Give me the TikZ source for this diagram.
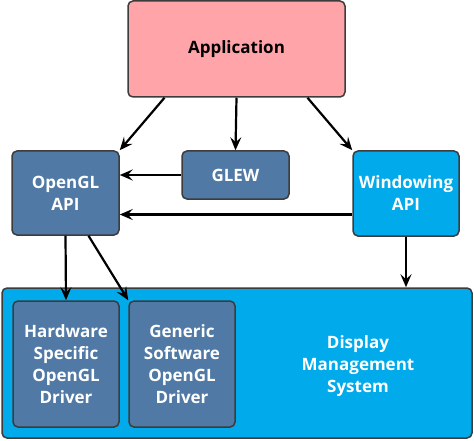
\documentclass[tikz,border=0pt]{standalone}
\usepackage{fontspec}
\setmainfont{Open Sans}
\usetikzlibrary{arrows.meta}

\definecolor{apppink}{RGB}{255,164,168}
\definecolor{steelbox}{RGB}{80,122,165}
\definecolor{skybox}{RGB}{0,170,235}
\definecolor{edgegray}{RGB}{60,60,60}

\begin{document}
\begin{tikzpicture}[
            x=1pt, y=-1pt,
            box/.style={rectangle, draw=edgegray, line width=1.5pt, rounded corners=5pt, align=center, font=\fontsize{17}{22}\selectfont\bfseries, text=white, inner sep=0pt},
            dark/.style={box, fill=steelbox},
            light/.style={box, fill=skybox},
            arrow/.style={-{Stealth[length=13pt, width=11pt, inset=5pt]}, line width=2.2pt}
            ]
            \useasboundingbox (0,0) rectangle (474,441);

            % Top level
            \node[box, fill=apppink, text=black, minimum width=217pt, minimum height=96pt] (app) at (236.5,49) {Application};

            % Middle row
            \node[dark, minimum width=107pt, minimum height=84pt] (ogl) at (65.5,193) {OpenGL\\API};
            \node[dark, minimum width=107pt, minimum height=48pt] (glew) at (235.5,175) {GLEW};
            \node[light, minimum width=106pt, minimum height=85pt] (win) at (406,193.5) {Windowing\\API};

            % Bottom system
            \node[light, minimum width=470pt, minimum height=150pt] (dms) at (237,363) {};
            \node[dark, minimum width=106pt, minimum height=126pt] (hw) at (66,364) {Hardware\\Specific\\OpenGL\\Driver};
            \node[dark, minimum width=106pt, minimum height=126pt] (sw) at (182,364) {Generic\\Software\\OpenGL\\Driver};
            \node[font=\fontsize{17}{22}\selectfont\bfseries, text=white, align=center] (dmstext) at (358,366) {Display\\Management\\System};

            % Arrows
            \draw[arrow] ([xshift=-72pt]app.south) -- (ogl.north east);
            \draw[arrow] (app.south) -- (glew.north);
            \draw[arrow] ([xshift=71pt]app.south) -- (win.north west);
            \draw[arrow] (glew.west) -- (glew.west -| ogl.east);
            \draw[arrow] ([yshift=-21pt]win.west) -- ([yshift=-21pt]win.west -| ogl.east);
            \draw[arrow] (ogl.south) -- (hw.north);
            \draw[arrow] ([xshift=23pt]ogl.south) -- (sw.north west);
            \draw[arrow] (win.south) -- (win.south |- dms.north);

        \end{tikzpicture}
\end{document}
